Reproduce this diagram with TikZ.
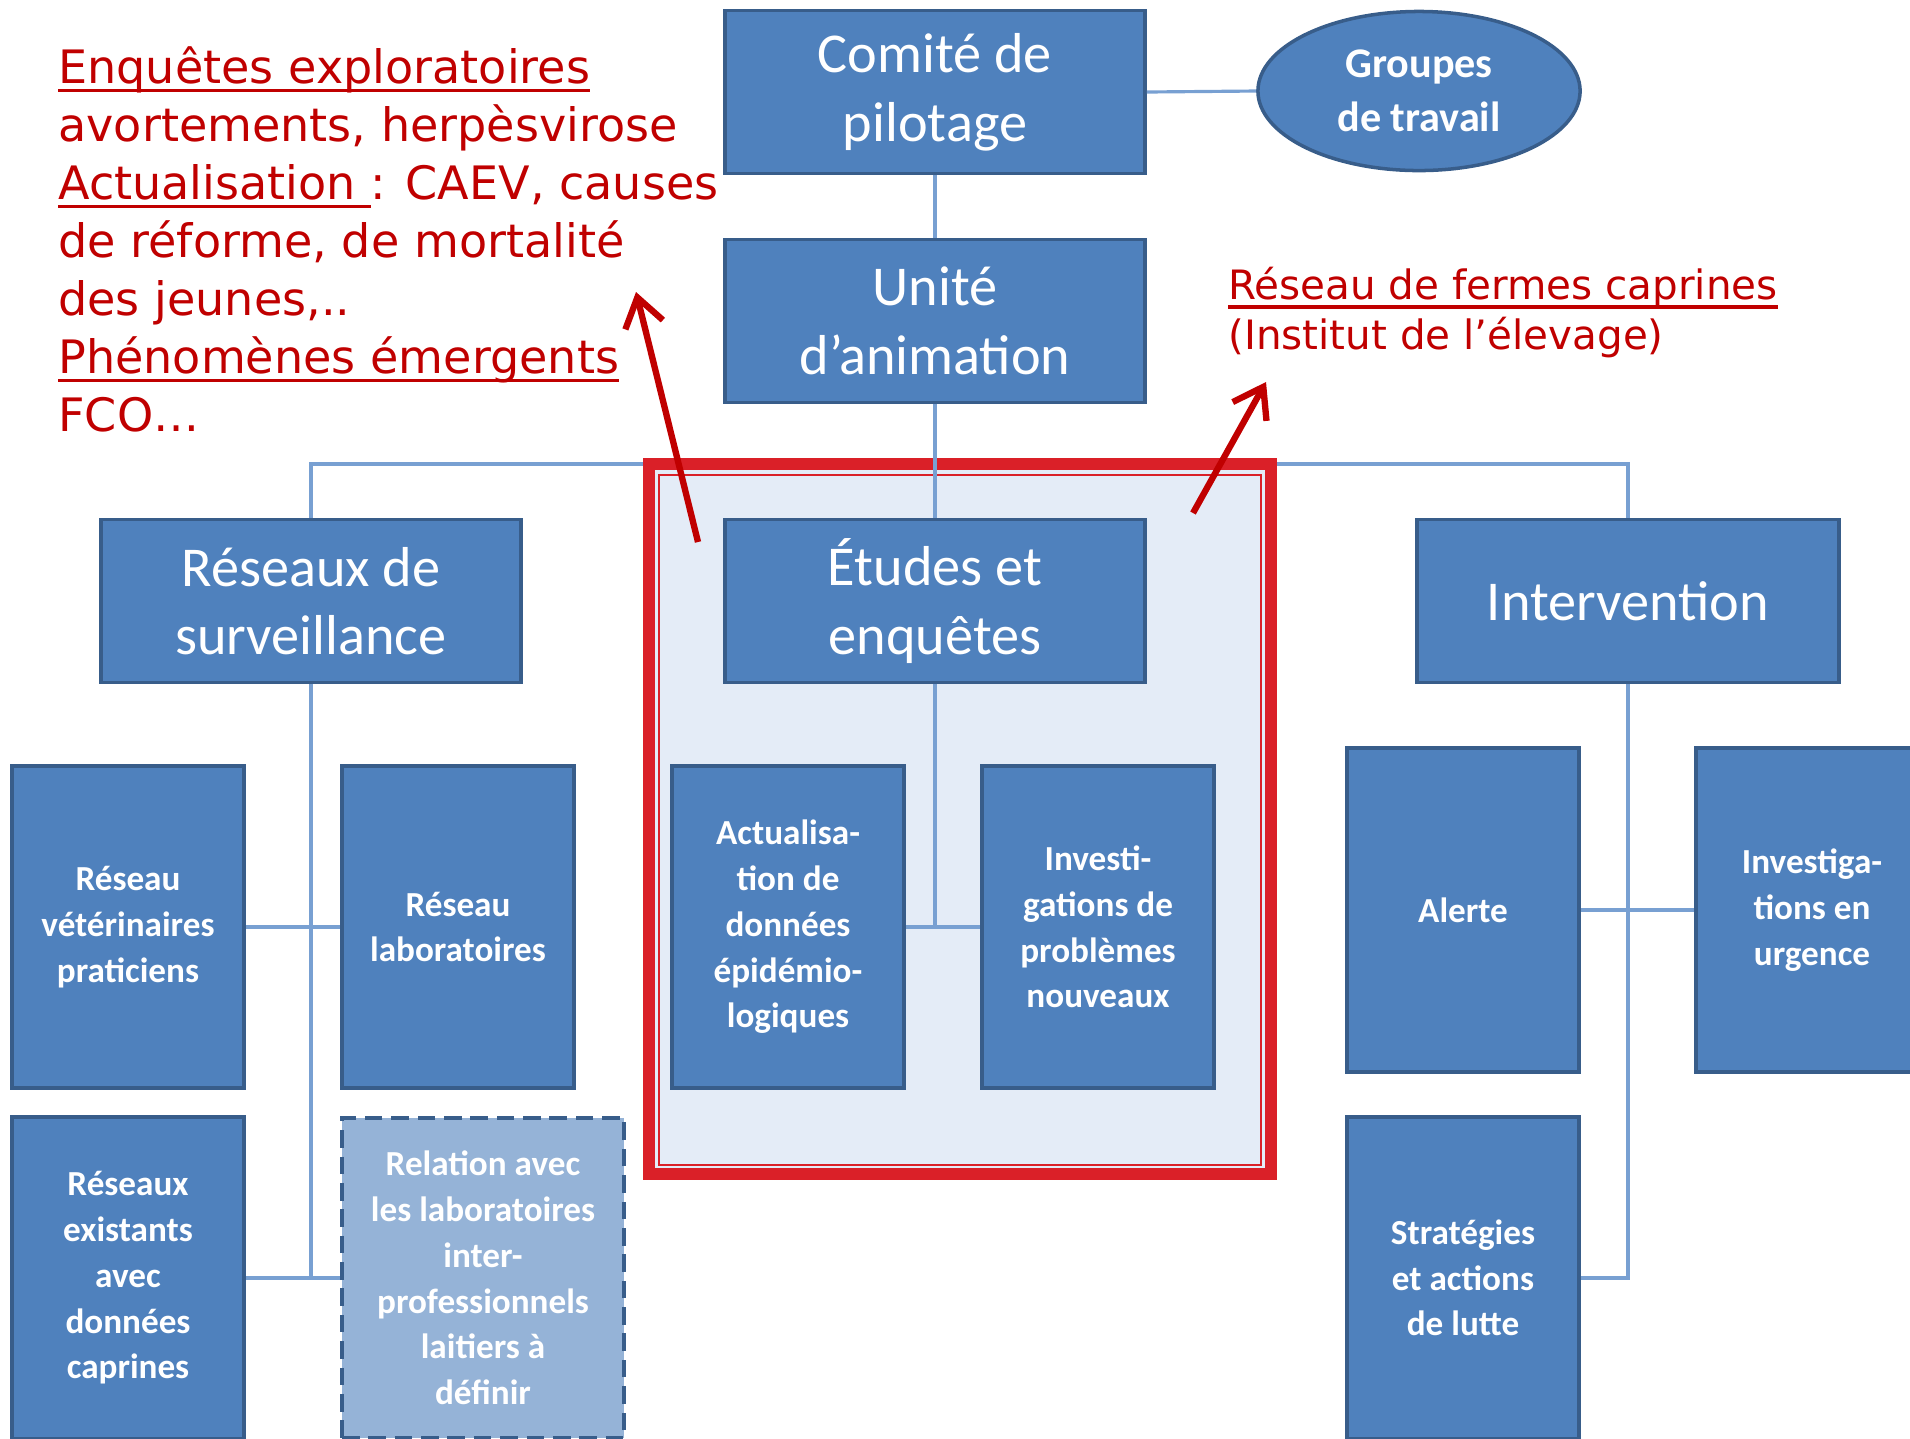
\documentclass[tikz,border=0pt]{standalone}
\usepackage{fontspec}
\setmainfont{Carlito}
\newfontfamily\notefont{DejaVu Sans}
\usepackage{tikz}
\usepackage{xcolor}
\usetikzlibrary{positioning,arrows.meta,shapes.geometric,backgrounds}

\definecolor{boxblue}{RGB}{79,129,189}
\definecolor{boxedge}{RGB}{56,93,138}
\definecolor{linkblue}{RGB}{120,160,210}
\definecolor{paleblue}{RGB}{149,179,215}
\definecolor{notered}{RGB}{192,0,0}
\definecolor{framered}{RGB}{218,32,40}
\definecolor{framefill}{RGB}{228,236,247}

\newcommand{\redunder}[1]{\setbox0=\hbox{#1}\rlap{\vrule width\wd0 height -1.5pt depth 2.5pt}\box0}

\begin{document}
\begin{tikzpicture}[
    x=0.01cm,
    y=-0.01cm,
    thick
]

\tikzstyle{unit}=[
    rectangle,
    draw=boxedge,
    line width=1pt,
    fill=boxblue,
    text=white,
    inner sep=2pt,
    align=center
]
\tikzstyle{bigunit}=[unit, minimum width=4.2cm, minimum height=1.63cm, font=\fontsize{16}{19.5}\selectfont]
\tikzstyle{smallunit}=[unit, minimum width=2.32cm, minimum height=3.22cm, font=\fontsize{10}{13}\selectfont\bfseries]
\tikzstyle{link}=[draw=linkblue, line width=0.9pt]
\tikzstyle{note}=[text=notered, align=left, inner sep=0pt, anchor=north west]
\tikzstyle{pointer}=[draw=notered, line width=1.8pt, -{Straight Barb[length=8pt, width=11pt]}]

\useasboundingbox (0,0) rectangle (1910,1438);

\node[bigunit] (comite) at (935,92) {Comité de\\pilotage};
\node[ellipse, draw=boxedge, line width=1pt, fill=boxblue, text=white, align=center,
      minimum width=3.22cm, minimum height=1.59cm,
      font=\fontsize{12}{15.4}\selectfont\bfseries] (groupes) at (1419,91) {Groupes\\de travail};
\node[bigunit] (unite) at (935,321) {Unité\\d’animation};

\coordinate (bus) at (935,464);

\node[bigunit] (reseaux) at (311,601) {Réseaux de\\surveillance};
\node[bigunit] (etudes) at (935,601) {Études et\\enquêtes};
\node[bigunit, minimum width=4.22cm] (interv) at (1628,601) {Intervention};

\node[smallunit] (resvet) at (128,927) {Réseau\\vétérinaires\\praticiens};
\node[smallunit] (reslabo) at (458,927) {Réseau\\laboratoires};
\node[smallunit] (resexist) at (128,1278) {Réseaux\\existants\\avec\\données\\caprines};
\node[smallunit, fill=paleblue, dash pattern=on 5pt off 2.5pt, line width=1.3pt,
      minimum width=2.82cm, minimum height=3.2cm] (relation) at (483,1278)
      {Relation avec\\les laboratoires\\inter-\\professionnels\\laitiers à\\définir};

\node[smallunit] (actu) at (788,927) {Actualisa-\\tion de\\données\\épidémio-\\logiques};
\node[smallunit] (investi) at (1098,927) {Investi-\\gations de\\problèmes\\nouveaux};

\node[smallunit, minimum height=3.24cm] (alerte) at (1463,910) {Alerte};
\node[smallunit, minimum height=3.24cm] (urgence) at (1812,910) {Investiga-\\tions en\\urgence};
\node[smallunit] (strateg) at (1463,1278) {Stratégies\\et actions\\de lutte};

\begin{scope}[on background layer]
\draw[link] (reseaux.north) |- (bus) -| (interv.north);
\draw[draw=framered, line width=0.12cm, fill=framefill] (649,464) rectangle (1271,1174);
\draw[draw=framered, line width=0.5pt] (659,475) rectangle (1261,1165);
\end{scope}

\draw[link] (comite.east) -- (groupes.west);
\draw[link] (comite) -- (unite);
\draw[link] (unite) -- (etudes);

\draw[link] (reseaux.south) |- (resvet.east);
\draw[link] (reseaux.south) |- (reslabo.west);
\draw[link] (reseaux.south) |- (resexist.east);
\draw[link] (reseaux.south) |- (relation.west);

\draw[link] (etudes.south) |- (actu.east);
\draw[link] (etudes.south) |- (investi.west);

\draw[link] (interv.south) |- (alerte.east);
\draw[link] (interv.south) |- (urgence.west);
\draw[link] (interv.south) |- (strateg.east);

\node[note, font=\notefont\fontsize{13.1}{16.5}\selectfont] (remarks) at (57,45) {%
\redunder{Enquêtes exploratoires}\\
avortements, herpèsvirose\\
\redunder{Actualisation\ }: CAEV, causes\\
de réforme, de mortalité\\
des jeunes,..\\
\redunder{Phénomènes émergents}\\
FCO…};
\node[note, font=\notefont\fontsize{11.5}{14.2}\selectfont] (fermes) at (1227,266)
    {\redunder{Réseau de fermes caprines}\\(Institut de l’élevage)};

\coordinate (leftTail) at (698,542);
\coordinate (leftTip) at (636,292);
\coordinate (rightTail) at (1193,513);
\coordinate (rightTip) at (1266,382);
\draw[pointer] (leftTail) -- (leftTip);
\draw[pointer] (rightTail) -- (rightTip);

\end{tikzpicture}
\end{document}
